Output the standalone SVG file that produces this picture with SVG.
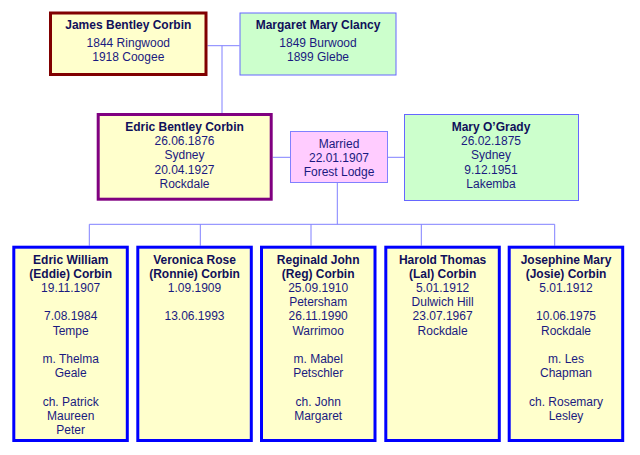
<svg xmlns="http://www.w3.org/2000/svg" width="640" height="455" viewBox="0 0 640 455">
<style>
text{font-family:"Liberation Sans",Arial,sans-serif;font-size:12px;fill:#1a1a80;text-anchor:middle}
.b{font-weight:bold;fill:#10105a}
.yel{fill:#FFFFCC}
.grn{fill:#CCFFCC;stroke:#6666FF;stroke-width:1}
.pnk{fill:#FFCCFF;stroke:#8080FF;stroke-width:1}
.kid{fill:#FFFFCC;stroke:#0000FF;stroke-width:3}
.con{stroke:#8080FF;stroke-width:1;fill:none}
</style>
<rect width="640" height="455" fill="#fff"/>
<g id="connectors" class="con">
<path d="M207.5 45.7H239.5M222 45.7V113"/>
<path d="M272.7 157.3H290M388 157.3H404M337.3 183V224.3"/>
<path d="M89.3 224.3H554.7M89.3 224.3V245.7M200.3 224.3V245.7M311 224.3V245.7M421.3 224.3V245.7M554.7 224.3V245.7"/>
</g>
<g id="james">
<rect class="yel" x="50.5" y="13" width="155.5" height="61.5" stroke="#800000" stroke-width="3"/>
<text x="128.3" y="29" class="b">James Bentley Corbin</text>
<text x="128.3" y="47">1844 Ringwood</text>
<text x="128.3" y="61.3">1918 Coogee</text>
</g>
<g id="margaret">
<rect class="grn" x="240" y="13" width="156" height="62"/>
<text x="318" y="28.7" class="b">Margaret Mary Clancy</text>
<text x="318" y="47">1849 Burwood</text>
<text x="318" y="61.3">1899 Glebe</text>
</g>
<g id="edric">
<rect class="yel" x="98.2" y="114.5" width="173" height="84.7" stroke="#800080" stroke-width="3"/>
<text x="184.5" y="131" class="b">Edric Bentley Corbin</text>
<text x="184.5" y="145">26.06.1876</text>
<text x="184.5" y="159">Sydney</text>
<text x="184.5" y="173.5">20.04.1927</text>
<text x="184.5" y="187.5">Rockdale</text>
</g>
<g id="married">
<rect class="pnk" x="290.5" y="131.5" width="97" height="51"/>
<text x="339" y="147.5">Married</text>
<text x="339" y="162">22.01.1907</text>
<text x="339" y="176">Forest Lodge</text>
</g>
<g id="mary">
<rect class="grn" x="404.5" y="114.5" width="174" height="86"/>
<text x="491" y="131" class="b">Mary O’Grady</text>
<text x="491" y="145">26.02.1875</text>
<text x="491" y="159">Sydney</text>
<text x="491" y="173.5">9.12.1951</text>
<text x="491" y="187.5">Lakemba</text>
</g>
<g id="child1">
<rect class="kid" x="13.8" y="247.2" width="113.5" height="193.3"/>
<text class="b"><tspan x="70.7" y="263.5">Edric William</tspan><tspan x="70.7" dy="14.2">(Eddie) Corbin</tspan></text>
<text><tspan x="70.7" y="292">19.11.1907</tspan><tspan x="70.7" dy="28.4">7.08.1984</tspan><tspan x="70.7" dy="14.2">Tempe</tspan><tspan x="70.7" dy="28.4">m. Thelma</tspan><tspan x="70.7" dy="14.2">Geale</tspan><tspan x="70.7" dy="28.4">ch. Patrick</tspan><tspan x="70.7" dy="14.2">Maureen</tspan><tspan x="70.7" dy="14.2">Peter</tspan></text>
</g>
<g id="child2">
<rect class="kid" x="137.8" y="247.2" width="113.5" height="193.3"/>
<text class="b"><tspan x="194.5" y="263.5">Veronica Rose</tspan><tspan x="194.5" dy="14.2">(Ronnie) Corbin</tspan></text>
<text><tspan x="194.5" y="292">1.09.1909</tspan><tspan x="194.5" dy="28.4">13.06.1993</tspan></text>
</g>
<g id="child3">
<rect class="kid" x="261.5" y="247.2" width="113.5" height="193.3"/>
<text class="b"><tspan x="318.2" y="263.5">Reginald John</tspan><tspan x="318.2" dy="14.2">(Reg) Corbin</tspan></text>
<text><tspan x="318.2" y="292">25.09.1910</tspan><tspan x="318.2" dy="14.2">Petersham</tspan><tspan x="318.2" dy="14.2">26.11.1990</tspan><tspan x="318.2" dy="14.2">Warrimoo</tspan><tspan x="318.2" dy="28.4">m. Mabel</tspan><tspan x="318.2" dy="14.2">Petschler</tspan><tspan x="318.2" dy="28.4">ch. John</tspan><tspan x="318.2" dy="14.2">Margaret</tspan></text>
</g>
<g id="child4">
<rect class="kid" x="385.8" y="247.2" width="113.5" height="193.3"/>
<text class="b"><tspan x="442.6" y="263.5">Harold Thomas</tspan><tspan x="442.6" dy="14.2">(Lal) Corbin</tspan></text>
<text><tspan x="442.6" y="292">5.01.1912</tspan><tspan x="442.6" dy="14.2">Dulwich Hill</tspan><tspan x="442.6" dy="14.2">23.07.1967</tspan><tspan x="442.6" dy="14.2">Rockdale</tspan></text>
</g>
<g id="child5">
<rect class="kid" x="509.2" y="247.2" width="113.5" height="193.3"/>
<text class="b"><tspan x="566" y="263.5">Josephine Mary</tspan><tspan x="566" dy="14.2">(Josie) Corbin</tspan></text>
<text><tspan x="566" y="292">5.01.1912</tspan><tspan x="566" dy="28.4">10.06.1975</tspan><tspan x="566" dy="14.2">Rockdale</tspan><tspan x="566" dy="28.4">m. Les</tspan><tspan x="566" dy="14.2">Chapman</tspan><tspan x="566" dy="28.4">ch. Rosemary</tspan><tspan x="566" dy="14.2">Lesley</tspan></text>
</g>
</svg>
